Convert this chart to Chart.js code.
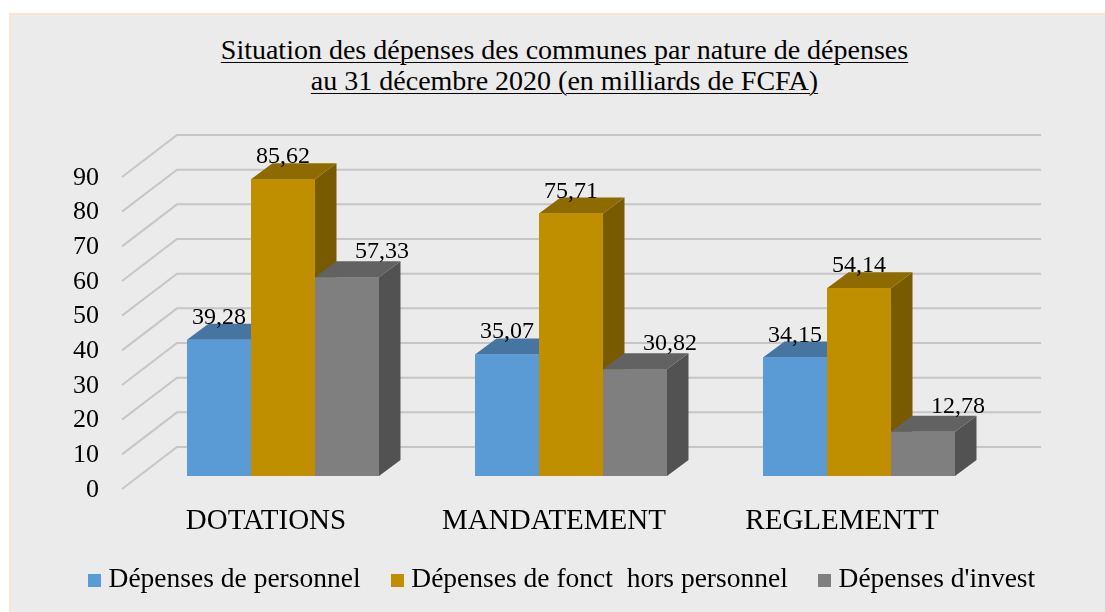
<!DOCTYPE html>
<html lang="fr">
<head>
  <meta charset="UTF-8" />
  <title>Situation des dépenses des communes</title>
  <script src="https://cdn.jsdelivr.net/npm/chart.js"></script>
  <style>
    body {
      margin: 0;
      width: 1105px;
      height: 612px;
      overflow: hidden;
      position: relative;
      background: #fff;
      font-family: "Liberation Serif", serif;
    }
    .panel {
      position: absolute;
      left: 9px;
      top: 13px;
      right: 0;
      bottom: 0;
      background: #ebebeb;
      border-top: 2px solid #fbe3d6;
      border-left: 2px solid #fbe3d6;
    }
    .title {
      position: absolute;
      left: 24px;
      right: 0;
      top: 34px;
      text-align: center;
      font-size: 28px;
      line-height: 31px;
      color: #000;
      text-decoration: underline;
      text-decoration-thickness: 1px;
      text-underline-offset: 3px;
    }
    .chart-box {
      position: absolute;
      left: 0;
      top: 0;
      width: 1105px;
      height: 612px;
    }
  </style>
</head>
<body>
  <div class="panel"></div>
  <div class="title">Situation des dépenses des communes par nature de dépenses<br>au 31 décembre 2020 (en milliards de FCFA)</div>
  <div class="chart-box"><canvas id="chart"></canvas></div>

  <script>
    const categories = ["DOTATIONS", "MANDATEMENT", "REGLEMENTT"];
    const seriesNames = ["Dépenses de personnel", "Dépenses de fonct  hors personnel", "Dépenses d'invest"];
    const personnel = [39.28, 35.07, 34.15];
    const fonctHorsPersonnel = [85.62, 75.71, 54.14];
    const invest = [57.33, 30.82, 12.78];
    const yMin = 0, yMax = 90, yStep = 10;

    // front / top / side shades for the fake 3D bars
    const shades = [
      { front: "#5b9bd5", top: "#4675a2", side: "#3c6590" },
      { front: "#bf8f00", top: "#8e6b00", side: "#785a00" },
      { front: "#7f7f7f", top: "#626262", side: "#525252" }
    ];

    const DEPTH = { dx: 21.5, dy: 16 };   // bar depth
    const FRONT = { dx: -17, dy: 13 };    // front edge of the floor
    const BACK = { dx: 38, dy: -29 };     // back wall
    const labelShift = [{ dx: 0, dy: 0 }, { dx: 0, dy: 0 }, { dx: 35, dy: -3 }];

    function swatch(color) {
      const c = document.createElement("canvas");
      c.width = 13; c.height = 13;
      const g = c.getContext("2d");
      g.fillStyle = color;
      g.fillRect(0, 0, 13, 13);
      return c;
    }

    function fmt(v) {
      return v.toFixed(2).replace(".", ",");
    }

    const bars3d = {
      id: "bars3d",
      beforeDatasetsDraw(chart) {
        const { ctx, chartArea: a, scales: { y } } = chart;
        ctx.save();
        ctx.strokeStyle = "#c6c6c6";
        ctx.lineWidth = 2;
        y.ticks.forEach(t => {
          const py = y.getPixelForValue(t.value);
          ctx.beginPath();
          ctx.moveTo(a.left + FRONT.dx, py + FRONT.dy);
          ctx.lineTo(a.left + BACK.dx, py + BACK.dy);
          ctx.lineTo(a.right + BACK.dx, py + BACK.dy);
          ctx.stroke();
        });
        ctx.restore();
      },
      afterDatasetsDraw(chart) {
        const { ctx } = chart;
        const metas = chart.data.datasets.map((d, i) => chart.getDatasetMeta(i));
        ctx.save();
        categories.forEach((c, i) => {
          metas.forEach((meta, s) => {
            const bar = meta.data[i];
            const { x, y, base, width } = bar.getProps(["x", "y", "base", "width"], true);
            const l = x - width / 2, r = x + width / 2;
            // side
            ctx.fillStyle = shades[s].side;
            ctx.beginPath();
            ctx.moveTo(r, y);
            ctx.lineTo(r + DEPTH.dx, y - DEPTH.dy);
            ctx.lineTo(r + DEPTH.dx, base - DEPTH.dy);
            ctx.lineTo(r, base);
            ctx.closePath();
            ctx.fill();
            // top
            ctx.fillStyle = shades[s].top;
            ctx.beginPath();
            ctx.moveTo(l, y);
            ctx.lineTo(r, y);
            ctx.lineTo(r + DEPTH.dx, y - DEPTH.dy);
            ctx.lineTo(l + DEPTH.dx, y - DEPTH.dy);
            ctx.closePath();
            ctx.fill();
            // front again so the next bar covers this one's side
            bar.draw(ctx);
          });
        });
        // value labels
        ctx.font = '24px "Liberation Serif"';
        ctx.fillStyle = "#000";
        ctx.textAlign = "center";
        ctx.textBaseline = "alphabetic";
        metas.forEach((meta, s) => {
          meta.data.forEach((bar, i) => {
            const v = chart.data.datasets[s].data[i];
            ctx.fillText(fmt(v), bar.x + labelShift[s].dx, bar.y - DEPTH.dy + labelShift[s].dy);
          });
        });
        ctx.restore();
      }
    };

    const serif = "'Liberation Serif', 'Times New Roman', serif";

    new Chart(document.getElementById("chart"), {
      type: "bar",
      data: {
        labels: categories,
        datasets: [personnel, fonctHorsPersonnel, invest].map((vals, s) => ({
          label: seriesNames[s],
          data: vals,
          backgroundColor: shades[s].front,
          borderWidth: 0,
          pointStyle: swatch(shades[s].front),
          categoryPercentage: 192 / 288,
          barPercentage: 1
        }))
      },
      options: {
        responsive: true,
        maintainAspectRatio: false,
        animation: false,
        layout: { padding: { top: 164, left: 24, right: 0, bottom: 8.25 } },
        plugins: {
          tooltip: { enabled: false },
          legend: {
            position: "bottom",
            labels: {
              usePointStyle: true,
              pointStyleWidth: 1,
              boxHeight: 13,
              padding: 36,
              color: "#000",
              font: { family: serif, size: 27.5 }
            }
          }
        },
        scales: {
          x: {
            grid: { display: false, drawTicks: false },
            border: { display: false },
            ticks: {
              padding: 28,
              labelOffset: -17,
              maxRotation: 0,
              color: "#000",
              font: { family: serif, size: 29 }
            },
            afterFit: s => { s.height = 54.25; }
          },
          y: {
            min: yMin,
            max: yMax,
            grid: { display: false, drawTicks: false },
            border: { display: false },
            ticks: {
              stepSize: yStep,
              padding: 40,
              labelOffset: 14,
              color: "#000",
              font: { family: serif, size: 26 }
            },
            afterFit: s => { s.width = 115; }
          },
          // empty axis that only reserves the room right of the bars
          yRight: {
            position: "right",
            grid: { display: false, drawTicks: false },
            border: { display: false },
            ticks: { display: false },
            afterFit: s => { s.width = 102; }
          }
        }
      },
      plugins: [bars3d]
    });
  </script>
</body>
</html>
